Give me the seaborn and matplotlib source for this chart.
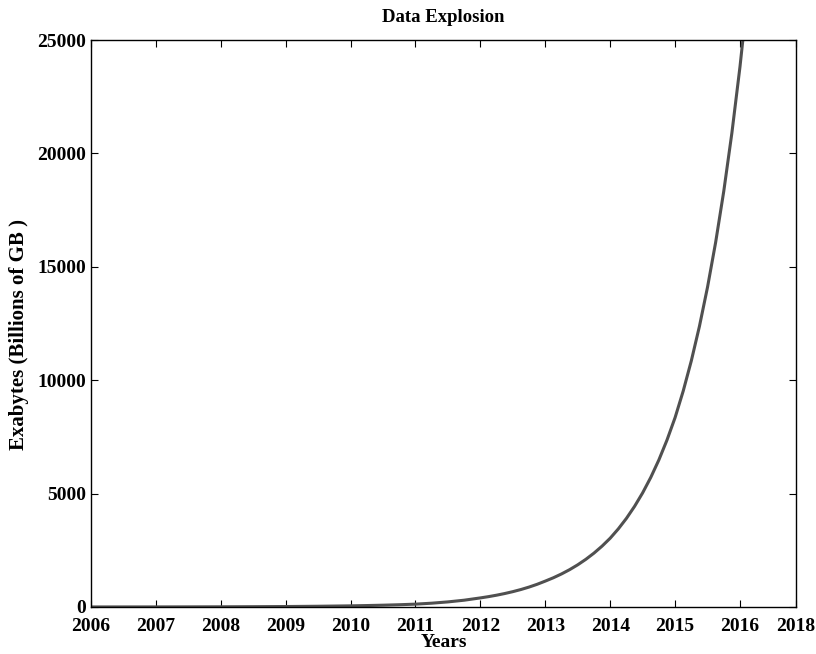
import matplotlib
matplotlib.use("Agg")
import matplotlib.pyplot as plt
import seaborn as sns
import pandas as pd

# Estimated worldwide data volume (exabytes) over time
years = [2006.0, 2006.5, 2007.0, 2007.5, 2008.0, 2008.5, 2009.0, 2009.5,
         2010.0, 2010.25, 2010.5, 2010.75, 2011.0, 2011.25, 2011.5, 2011.75,
         2012.0, 2012.125, 2012.25, 2012.375, 2012.5, 2012.625, 2012.75, 2012.875,
         2013.0, 2013.125, 2013.25, 2013.375, 2013.5, 2013.625, 2013.75, 2013.875,
         2014.0, 2014.125, 2014.25, 2014.375, 2014.5, 2014.625, 2014.75, 2014.875,
         2015.0, 2015.125, 2015.25, 2015.375, 2015.5, 2015.625, 2015.75, 2015.875,
         2016.0, 2016.125, 2016.25]
exabytes = [1, 2, 3, 5, 8, 13, 20, 32,
            50, 63, 79, 99, 125, 167, 224, 299,
            400, 456, 520, 593, 676, 770, 878, 1001,
            1141, 1289, 1457, 1646, 1860, 2102, 2375, 2684,
            3033, 3443, 3907, 4435, 5033, 5713, 6484, 7360,
            8353, 9523, 10856, 12376, 14108, 16083, 18335, 20902,
            23828, 27164, 30967]

x_tick_years = [2006, 2007, 2008, 2009, 2010, 2011, 2012, 2013, 2014, 2015, 2016]
x_tick_labels = ["2006", "2007", "2008", "2009", "2010", "2011",
                 "2012", "2013", "2014", "2015", "2016", "2018"]
y_ticks = [0, 5000, 10000, 15000, 20000, 25000]

sns.set_theme(style="white")
plt.rcParams["font.family"] = ["Liberation Serif", "DejaVu Serif"]
plt.rcParams["font.weight"] = "bold"
plt.rcParams["text.color"] = "black"
plt.rcParams["axes.labelcolor"] = "black"

df = pd.DataFrame({"Year": years, "Exabytes": exabytes})

fig = plt.figure(figsize=(8.16, 6.54), dpi=100)
ax = fig.add_axes([0.1115, 0.0719, 0.864, 0.8669])

sns.lineplot(data=df, x="Year", y="Exabytes", ax=ax, color="#505050",
             linewidth=2.2)

x_right = 2016.863
ax.set_xlim(2006, x_right)
ax.set_ylim(0, 25000)

ax.set_xticks(x_tick_years + [x_right])
ax.set_xticklabels(x_tick_labels)
ax.set_yticks(y_ticks)
ax.set_yticklabels([str(v) for v in y_ticks])

for spine in ax.spines.values():
    spine.set_visible(True)
    spine.set_color("black")
    spine.set_linewidth(1.0)

ax.tick_params(axis="both", which="both", direction="in", length=5, width=0.8,
               top=True, right=True, bottom=True, left=True,
               labelsize=14, colors="black")
ax.tick_params(axis="x", pad=8)
ax.tick_params(axis="y", pad=3.5)
for lbl in ax.get_xticklabels() + ax.get_yticklabels():
    lbl.set_fontweight("bold")

ax.set_title("Data Explosion", fontsize=13.5, fontweight="bold", pad=13,
             color="black")
ax.set_xlabel("Years", fontsize=14, fontweight="bold", labelpad=-1)
ax.set_ylabel("Exabytes (Billions of GB )", fontsize=15, fontweight="bold")
ax.yaxis.set_label_coords(-0.088, 0.48)

fig.savefig("out.png", dpi=100, facecolor="white")
